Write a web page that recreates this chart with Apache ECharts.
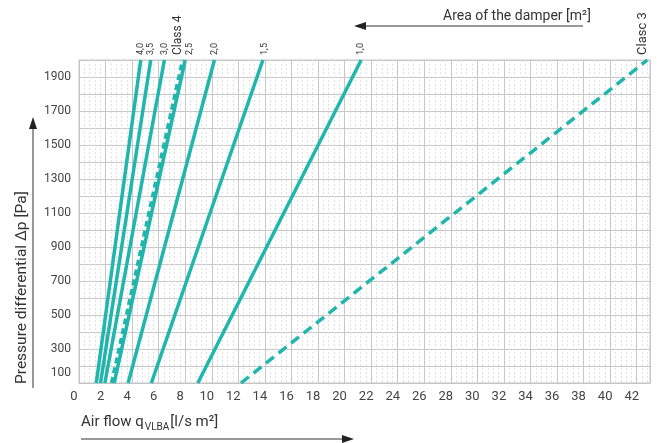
<!DOCTYPE html>
<html>
<head>
<meta charset="utf-8">
<script src="https://cdn.jsdelivr.net/npm/echarts@6/dist/echarts.min.js"></script>
<style>
  html, body { margin: 0; padding: 0; background: #fff; }
  #chart { width: 664px; height: 443px; }
</style>
</head>
<body>
<div id="chart"></div>
<script>
// damper curves: air flow at the bottom (100 Pa) and at the top (2000 Pa)
var lineNames = ['4,0', '3,5', '3,0', '2,5', 'Class 4', '2,0', '1,5', '1,0', 'Clasc 3'];
var flowLow = [1.3, 1.62, 1.95, 2.65, 2.45, 3.7, 5.45, 8.95, 12.2];
var flowHigh = [4.65, 5.4, 6.43, 8.0, 7.8, 10.2, 13.85, 21.25, 42.8];
var pressureRange = [100, 2000];
var dashedLines = ['Class 4', 'Clasc 3'];

// label tweaks (screen px shift left/right of the line end)
var labelShift = { 'Class 4': -5, '2,5': 5, '1,5': 1.5, 'Clasc 3': -5 };
var labelSize = { 'Class 4': 12, 'Clasc 3': 13 };

var teal = '#20b5ad';
var font = 'Roboto, "DejaVu Sans", sans-serif';

var series = lineNames.map(function (name, i) {
	var isDashed = dashedLines.indexOf(name) >= 0;
	return {
		name: name,
		type: 'line',
		symbol: 'circle',
		symbolSize: 0.1,
		showSymbol: true,
		silent: true,
		z: isDashed ? 3 : 2,
		itemStyle: { color: teal },
		lineStyle: {
			color: teal,
			width: 3.5,
			type: isDashed ? (name === 'Clasc 3' ? [10, 6] : [6, 4]) : 'solid'
		},
		label: { show: false },
		data: [
			[flowLow[i], pressureRange[0]],
			{
				value: [flowHigh[i], pressureRange[1]],
				label: {
					show: true,
					formatter: name,
					position: 'top',
					distance: 5,
					rotate: 90,
					align: 'left',
					verticalAlign: 'middle',
					offset: [0, labelShift[name] || 0],
					fontSize: labelSize[name] || 9,
					fontFamily: font,
					color: '#333'
				}
			}
		]
	};
});

var chart = echarts.init(document.getElementById('chart'));
chart.setOption({
	animation: false,
	grid: {
		left: 79,
		right: 14,
		top: 60,
		bottom: 60,
		show: true,
		borderColor: '#c4c4c4',
		borderWidth: 1
	},
	xAxis: {
		type: 'value',
		min: 0,
		max: 43,
		interval: 2,
		axisLine: { show: true, lineStyle: { color: '#c4c4c4' } },
		axisTick: { show: false },
		axisLabel: {
			showMaxLabel: false,
			margin: 7,
			fontSize: 13,
			fontFamily: font,
			color: '#444',
			padding: [0, 10, 0, 0]
		},
		splitLine: { show: true, lineStyle: { color: '#c8c8c8', width: 1 } },
		minorTick: { show: false, splitNumber: 5 },
		minorSplitLine: { show: true, lineStyle: { color: '#e2e2e2', type: [2, 2] } }
	},
	yAxis: {
		type: 'value',
		min: 100,
		max: 2000,
		interval: 100,
		axisLine: { show: true, lineStyle: { color: '#c4c4c4' } },
		axisTick: { show: false },
		axisLabel: {
			margin: 8,
			fontSize: 12,
			fontFamily: font,
			color: '#444',
			formatter: function (v) {
				if (v >= 2000 || (v - 100) % 200 !== 0) return '';
				if (v === 100) return '{low|100}';
				return String(v);
			},
			rich: {
				low: { fontSize: 12, fontFamily: font, color: '#444', padding: [0, 0, 20, 0] }
			}
		},
		splitLine: { show: true, lineStyle: { color: '#c8c8c8', width: 1 } }
	},
	graphic: [
		{
			type: 'text', left: 443, top: 9,
			style: { text: 'Area of the damper [m²]', fontSize: 14, fontFamily: font, fill: '#333' }
		},
		{ type: 'line', shape: { x1: 362, y1: 26, x2: 583, y2: 26 }, style: { stroke: '#333', lineWidth: 1 } },
		{ type: 'polygon', shape: { points: [[354, 26], [366, 22], [366, 30]] }, style: { fill: '#222' } },
		{
			type: 'text', left: 81, top: 415,
			style: {
				text: 'Air flow q{sub|VLBA}[l/s m²]',
				fontSize: 15, fontFamily: font, fill: '#333',
				rich: { sub: { fontSize: 10, fontFamily: font, fill: '#333', padding: [9, 1, 0, 1] } }
			}
		},
		{ type: 'line', shape: { x1: 81, y1: 439, x2: 346, y2: 439 }, style: { stroke: '#333', lineWidth: 1 } },
		{ type: 'polygon', shape: { points: [[354, 439], [342, 435], [342, 443]] }, style: { fill: '#222' } },
		{
			type: 'text', x: 22, y: 384, rotation: Math.PI / 2,
			style: {
				text: 'Pressure differential Δp [Pa]',
				fontSize: 15.5, fontFamily: font, fill: '#333',
				align: 'left', verticalAlign: 'middle'
			}
		},
		{ type: 'line', shape: { x1: 33, y1: 388, x2: 33, y2: 126 }, style: { stroke: '#333', lineWidth: 1 } },
		{ type: 'polygon', shape: { points: [[33, 117], [29, 129], [37, 129]] }, style: { fill: '#222' } }
	],
	series: series
});
</script>
</body>
</html>
